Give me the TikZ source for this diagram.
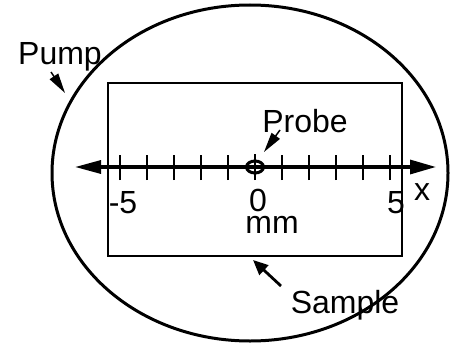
\documentclass[tikz,border=0pt]{standalone}
\usepackage{fontspec}
\setmainfont{Liberation Sans}
\usetikzlibrary{arrows.meta,shapes.geometric}
\begin{document}
\begin{tikzpicture}[x=1pt,y=1pt,>=Triangle,
 lab/.style={font=\fontsize{32}{36}\selectfont,inner sep=0pt,anchor=base},
 wedge/.style={line width=1.5pt,-{Triangle[length=20pt,width=10pt]}}]
\useasboundingbox (0,0) rectangle (454,346);
\node[draw,ellipse,line width=3pt,minimum width=396pt,minimum height=336pt] (pump) at (250,173) {};
\node[draw,line width=2.8pt,minimum width=294pt,minimum height=173pt] (sample) at (255,176.5) {};
\coordinate (axl) at (75,179);
\coordinate (axr) at (436,179);
\draw[line width=3.2pt,{Triangle[length=26pt,width=13pt]}-{Triangle[length=26pt,width=14pt]}] (axl) -- (axr);
\foreach \k in {-5,-4,-3,-2,-1,1,2,3,4,5}\draw[line width=2.8pt] (255+27*\k,166) -- (255+27*\k,191);
\node[draw,ellipse,line width=3pt,minimum width=17pt,minimum height=12pt,inner sep=0pt] (probe) at (255,179) {};
\draw[line width=2.8pt] (255,166) -- (255,192);
% scale labels
\node[lab] (lm5) at (123,133) {-5};
\node[lab,text depth=0pt] (l0) at (258,135) {0};
\node[lab] (lp5) at (396,133) {5};
\node[lab] (lx) at (422,146) {x};
\node[lab,text height=17pt] (lmm) at (272,113) {mm};
% names
\node[lab] (tpump) at (60,281) {Pump};
\node[lab] (tprobe) at (305,214) {Probe};
\node[lab] (tsample) at (345,33) {Sample};
\coordinate (pumpa) at (51,274);
\coordinate (pumpb) at (65,253);
\coordinate (probea) at (280,216);
\coordinate (probeb) at (264,194);
\coordinate (samplea) at (281,60);
\coordinate (sampleb) at (253,86);
\draw[wedge] (pumpa) -- (pumpb);
\draw[wedge] (probea) -- (probeb);
\draw[line width=2.8pt,-{Triangle[length=15pt,width=13pt]}] (samplea) -- (sampleb);
\end{tikzpicture}
\end{document}
